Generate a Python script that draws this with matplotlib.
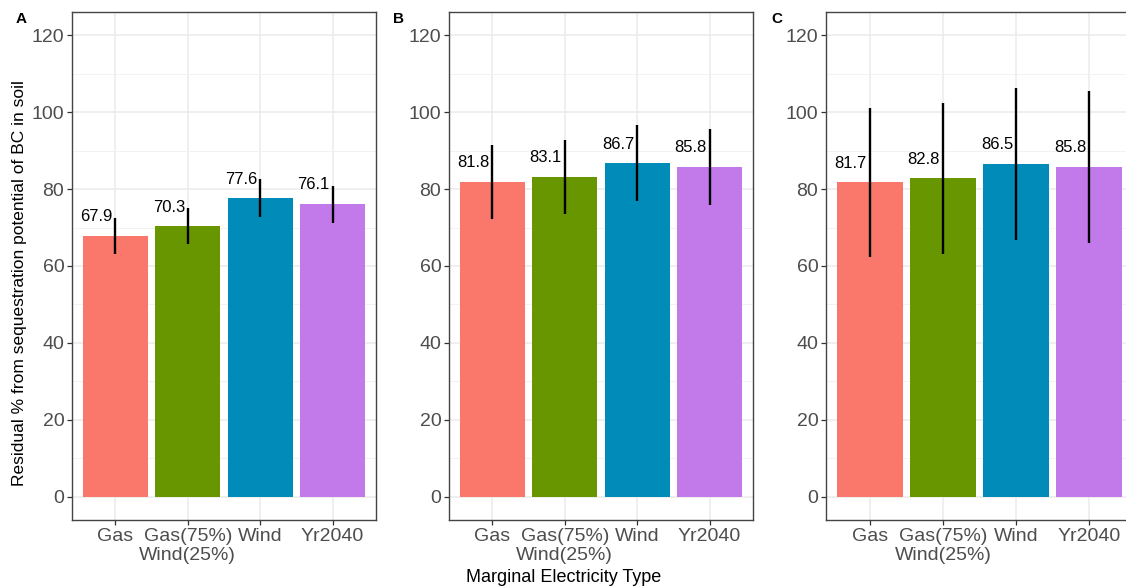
import matplotlib.pyplot as plt
import numpy as np

plt.rcParams['font.family'] = ['Liberation Sans', 'DejaVu Sans']

categories = ["Gas", "Gas(75%)\nWind(25%)", "Wind", "Yr2040"]
colors = ["#F9776B", "#679600", "#008BB9", "#C27AEA"]
panels = ["A", "B", "C"]

# mean values and error (half-length of error bars) per panel
values_A = [67.9, 70.3, 77.6, 76.1]
errors_A = [4.7, 4.7, 4.9, 4.8]
values_B = [81.8, 83.1, 86.7, 85.8]
errors_B = [9.6, 9.7, 9.9, 9.9]
values_C = [81.7, 82.8, 86.5, 85.8]
errors_C = [19.4, 19.6, 19.8, 19.8]

data = [(values_A, errors_A), (values_B, errors_B), (values_C, errors_C)]

W, H = 1126, 588
fig = plt.figure(figsize=(W/100, H/100), dpi=100)

lefts = [72, 449, 826]
pw = 304
top, bottom = 12, 520
letter_x = [21, 399, 777]

x = np.arange(len(categories))
for k, (vals, errs) in enumerate(data):
	ax = fig.add_axes([lefts[k]/W, (H-bottom)/H, (pw+3*(k == 2))/W, (bottom-top)/H])
	ax.set_axisbelow(True)
	ax.bar(x, vals, width=0.9, color=colors, edgecolor='none', zorder=2)
	ax.vlines(x, np.array(vals)-np.array(errs), np.array(vals)+np.array(errs),
			  color='black', lw=1.7, zorder=3)
	for xi, v in zip(x, vals):
		ax.text(xi-0.04, v+5, "%.1f" % v, ha='right', va='center', fontsize=12, color='black', zorder=4)
	ax.set_xlim(-0.6, 3.6)
	ax.set_ylim(-6, 126)
	ax.set_yticks(range(0, 121, 20))
	ax.set_yticks(range(10, 121, 20), minor=True)
	ax.set_xticks(x)
	ax.set_xticklabels(categories, va='top', linespacing=1.2)
	ax.grid(which='major', color='#EBEBEB', lw=1.1)
	ax.grid(which='minor', axis='y', color='#F2F2F2', lw=0.7)
	ax.tick_params(which='major', length=3.5, width=0.9, color='#333333', labelcolor='#4D4D4D',
				   labelsize=14, pad=2)
	ax.tick_params(which='minor', length=0)
	for s in ax.spines.values():
		s.set_color('#444444')
		s.set_linewidth(1.0)
	fig.text(letter_x[k]/W, 1-19/H, panels[k], ha='center', va='center', fontsize=11, fontweight='bold')
	if k == 0:
		ax.set_ylabel("Residual % from sequestration potential of BC in soil", fontsize=12.5, color='black')
		ax.yaxis.set_label_coords((27-72)/pw, (520-283)/(bottom-top))

fig.text(564/W, 1-577/H, "Marginal Electricity Type", ha='center', va='center', fontsize=13, color='black')

fig.savefig("out.png", dpi=100)
